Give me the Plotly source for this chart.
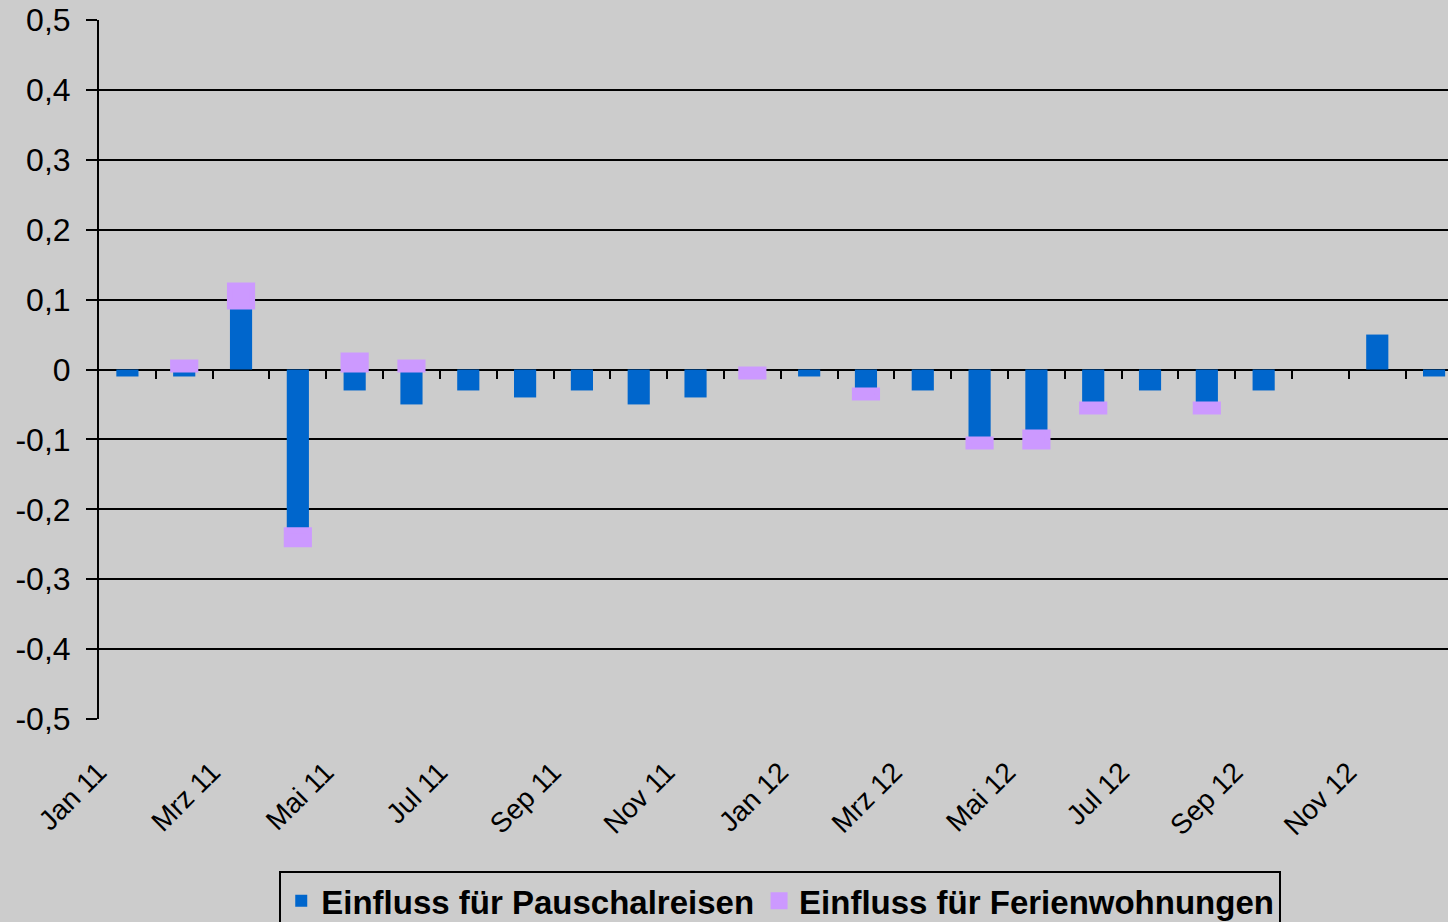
import plotly.graph_objects as go

months = ["Jan 11", "Feb 11", "Mrz 11", "Apr 11", "Mai 11", "Jun 11",
          "Jul 11", "Aug 11", "Sep 11", "Okt 11", "Nov 11", "Dez 11",
          "Jan 12", "Feb 12", "Mrz 12", "Apr 12", "Mai 12", "Jun 12",
          "Jul 12", "Aug 12", "Sep 12", "Okt 12", "Nov 12", "Dez 12"]

pauschalreisen = [-0.01, -0.01, 0.09, -0.23, -0.03, -0.05,
                  -0.03, -0.04, -0.03, -0.05, -0.04, None,
                  -0.01, -0.03, -0.03, -0.10, -0.09, -0.05,
                  -0.03, -0.05, -0.03, None, 0.05, -0.01]

ferienwohnungen = [None, 0.01, 0.03, -0.02, 0.02, 0.01,
                   None, None, None, None, None, -0.01,
                   None, -0.01, None, -0.01, -0.02, -0.01,
                   None, -0.01, None, None, None, None]

y_ticks = [-0.5, -0.4, -0.3, -0.2, -0.1, 0.0, 0.1, 0.2, 0.3, 0.4, 0.5]
y_labels = ["-0,5", "-0,4", "-0,3", "-0,2", "-0,1", "0", "0,1", "0,2", "0,3", "0,4", "0,5"]

x_idx = list(range(len(months)))
label_idx = x_idx[::2]
label_txt = months[::2]
boundaries = [i + 0.5 for i in x_idx[:-1]]

BLUE = "#0066CC"
PURPLE = "#CC99FF"
BG = "#CCCCCC"
FONT = "Liberation Sans"

fig = go.Figure()
fig.add_trace(go.Bar(
    x=x_idx, y=pauschalreisen, name="Einfluss für Pauschalreisen",
    marker=dict(color=BLUE, line=dict(width=0)), width=0.39,
))
fig.add_trace(go.Bar(
    x=x_idx, y=ferienwohnungen, name="Einfluss für Ferienwohnungen",
    marker=dict(color=PURPLE, line=dict(width=6, color=PURPLE)), width=0.39,
))
# carrier for the category-boundary tick marks drawn on the zero line
fig.add_trace(go.Scatter(
    x=boundaries, y=[0] * len(boundaries), xaxis="x2", mode="markers",
    marker=dict(opacity=0, size=1), showlegend=False, hoverinfo="skip",
))

xrange = [-0.5, 23.245]

fig.update_layout(
    width=1448, height=922,
    margin=dict(l=99, r=0, t=20, b=203, autoexpand=False),
    paper_bgcolor=BG, plot_bgcolor=BG,
    barmode="relative",
    font=dict(family=FONT, color="black"),
    showlegend=True,
    legend=dict(
        orientation="h", x=0.505, xanchor="center",
        yref="container", y=0.0555, yanchor="top",
        bgcolor=BG, bordercolor="black", borderwidth=2,
        font=dict(family=FONT, size=33, color="black", weight="bold"),
    ),
    xaxis=dict(
        range=xrange, tickmode="array", tickvals=label_idx, ticktext=label_txt,
        tickangle=-45, showgrid=False, zeroline=False, showline=False, ticks="",
        tickfont=dict(family=FONT, size=28, color="black"),
        ticklabelstandoff=30, ticklabelshift=-29, automargin=False,
    ),
    xaxis2=dict(
        overlaying="x", anchor="free", position=0.5, range=xrange,
        tickmode="array", tickvals=boundaries, ticks="outside", ticklen=8,
        tickwidth=2, tickcolor="black", showticklabels=False,
        showgrid=False, zeroline=False, showline=False,
    ),
    yaxis=dict(
        range=[-0.5, 0.5], tickmode="array", tickvals=y_ticks, ticktext=y_labels,
        showgrid=True, gridcolor="black", gridwidth=2,
        zeroline=True, zerolinecolor="black", zerolinewidth=2,
        showline=True, linecolor="black", linewidth=2,
        ticks="outside", ticklen=11, tickwidth=2, tickcolor="black",
        tickfont=dict(family=FONT, size=32, color="black"),
        ticklabelstandoff=9, automargin=False,
    ),
)

fig.write_html(
    "out.html",
    config={"displayModeBar": False},
    post_script="document.body.style.margin='0';document.body.style.overflow='hidden';",
)
